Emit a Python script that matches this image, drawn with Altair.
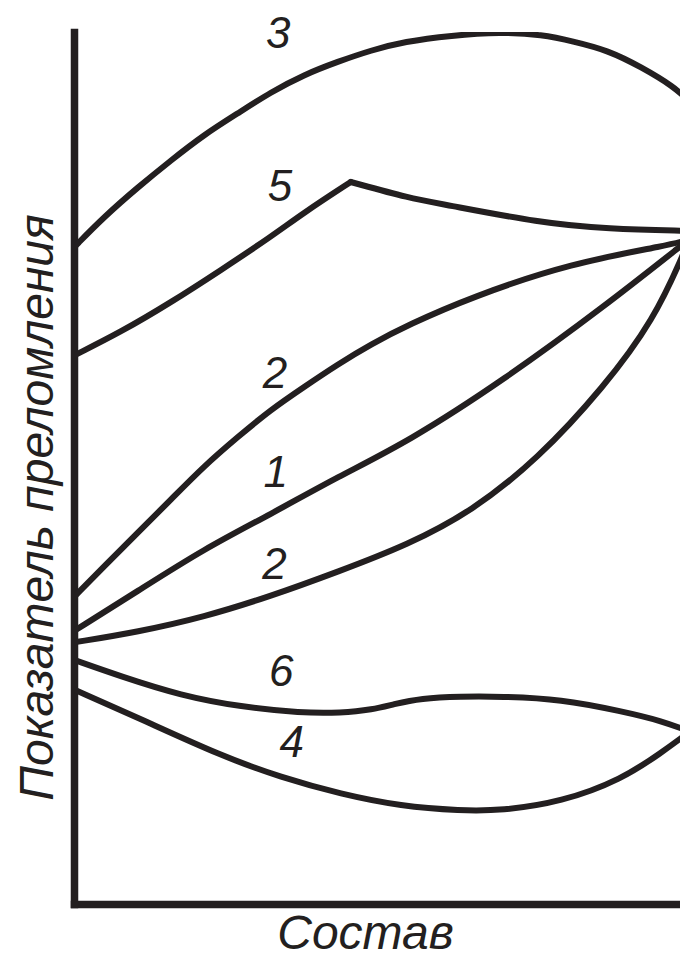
import altair as alt
import pandas as pd

INK = "#231f20"
FONT = "Liberation Sans"

# Curves (composition 0..100 along x, refractive index in relative units along y)
s3_x = [0, 4.88, 10.4, 15.8, 21.1, 26.7, 32.0, 37.4, 42.9, 48.3, 53.7, 61.3, 69.4, 76.1, 81.3, 86.8, 92.2, 97.6, 99.8]
s3_y = [75.3, 78.8, 82.2, 85.3, 88.2, 90.7, 93.1, 95.1, 96.6, 97.9, 98.9, 99.6, 100.0, 99.7, 98.9, 97.9, 96.0, 93.7, 92.2]

s5a_x = [0, 7.64, 15.8, 23.9, 32.0, 37.4, 45.0]
s5a_y = [62.9, 65.6, 69.0, 72.7, 76.5, 79.3, 82.8]

s5b_x = [45.0, 54.8, 59.7, 75.9, 86.8, 99.8]
s5b_y = [82.8, 80.9, 80.3, 78.1, 77.4, 77.2]

s2u_x = [0, 4.88, 10.4, 15.8, 21.1, 26.7, 32.0, 37.4, 42.9, 48.3, 54.3, 64.6, 80.8, 97.1, 100]
s2u_y = [35.2, 38.7, 42.6, 46.4, 50.2, 53.6, 56.7, 59.3, 61.9, 64.2, 66.4, 69.6, 73.5, 75.6, 76.2]

s1_x = [0, 10.4, 21.1, 32.0, 42.9, 54.3, 69.9, 86.2, 100]
s1_y = [31.3, 35.9, 40.7, 44.7, 49.0, 53.0, 60.1, 68.5, 76.2]

s2l_x = [0, 10.4, 21.1, 32.0, 42.9, 54.3, 64.6, 75.4, 86.2, 94.3, 99.2, 100]
s2l_y = [30.0, 31.2, 32.9, 35.3, 38.1, 41.2, 45.0, 51.0, 59.3, 67.0, 74.7, 76.2]

s6_x = [0, 7.64, 17.4, 27.2, 36.9, 43.4, 48.6, 51.9, 56.4, 62.9, 69.4, 79.2, 89.1, 95.6, 100]
s6_y = [28.0, 26.1, 23.9, 22.6, 21.9, 21.9, 22.3, 22.9, 23.6, 23.8, 23.8, 23.5, 22.1, 21.0, 19.8]

s4_x = [0, 10.9, 23.9, 33.7, 43.4, 53.2, 62.9, 69.4, 79.3, 89.1, 95.6, 100]
s4_y = [24.6, 21.2, 17.0, 14.5, 12.6, 11.2, 10.7, 10.7, 11.7, 14.3, 17.4, 19.7]

# Curve labels
lab_t = ["3", "5", "2", "1", "2", "6", "4"]
lab_x = [33.2, 33.5, 32.7, 32.8, 32.6, 33.7, 35.4]
lab_y = [99.6, 82.1, 60.7, 49.3, 38.8, 26.5, 18.3]

series = [
    ("3", s3_x, s3_y),
    ("5a", s5a_x, s5a_y),
    ("5b", s5b_x, s5b_y),
    ("2u", s2u_x, s2u_y),
    ("1", s1_x, s1_y),
    ("2l", s2l_x, s2l_y),
    ("6", s6_x, s6_y),
    ("4", s4_x, s4_y),
]
rows = []
for name, xs, ys in series:
    for i, (x, y) in enumerate(zip(xs, ys)):
        rows.append({"series": name, "x": x, "y": y, "i": i})
df = pd.DataFrame(rows)
lab_df = pd.DataFrame({"t": lab_t, "x": lab_x, "y": lab_y})

xsc = alt.Scale(domain=[0, 98.54], nice=False, zero=False)
ysc = alt.Scale(domain=[0, 100], nice=False, zero=False)

lines = alt.Chart(df).mark_line(
    interpolate="basis", strokeWidth=6, color=INK, clip=True, strokeCap="round"
).encode(
    x=alt.X("x:Q", scale=xsc, axis=alt.Axis(
        title="Состав", titleX=291, titleY=44, titleAlign="center",
        titleBaseline="alphabetic")),
    y=alt.Y("y:Q", scale=ysc, axis=alt.Axis(
        title="Показатель преломления", titleAngle=270, titleX=-22, titleY=475,
        titleAlign="center", titleBaseline="alphabetic")),
    detail="series:N",
    order="i:Q",
)

labels = alt.Chart(lab_df).mark_text(
    fontSize=44, fontStyle="italic", font=FONT, color=INK, baseline="middle", align="center"
).encode(
    x=alt.X("x:Q", scale=xsc),
    y=alt.Y("y:Q", scale=ysc),
    text="t:N",
)

chart = (lines + labels).properties(
    width=606, height=872,
    padding={"left": 66, "top": 24, "right": 0, "bottom": 55},
    autosize=alt.AutoSizeParams(type="none"),
    background="white",
).configure_view(stroke=None).configure_axis(
    domainColor=INK, domainWidth=7.5, domainCap="square",
    ticks=False, labels=False, grid=False,
    titleFont=FONT, titleFontSize=48, titleFontStyle="italic",
    titleFontWeight="normal", titleColor=INK,
)

chart.save("out.html", embed_options={"renderer": "svg", "actions": False})
